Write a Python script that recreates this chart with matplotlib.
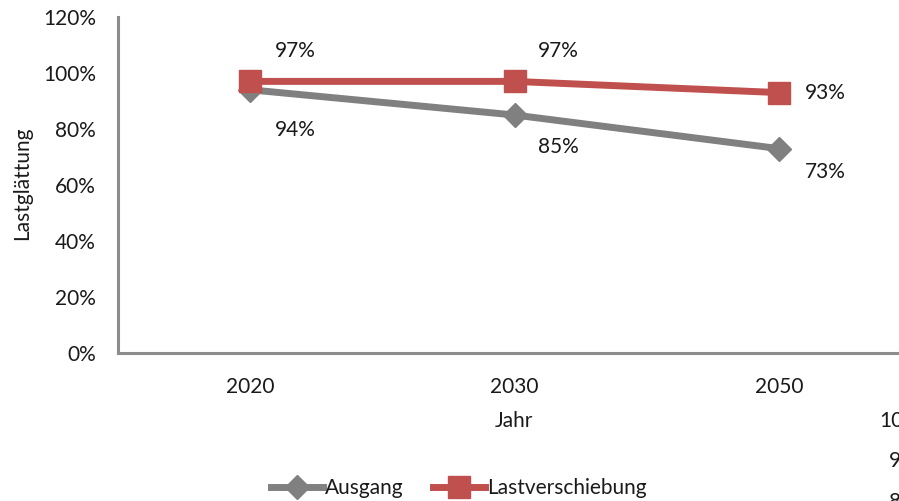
import matplotlib
matplotlib.use("Agg")
import matplotlib.pyplot as plt
from matplotlib.ticker import FuncFormatter

years = ["2020", "2030", "2050"]
ausgang = [94, 85, 73]
lastverschiebung = [97, 97, 93]
yticks = [0, 20, 40, 60, 80, 100, 120]

plt.rcParams['font.family'] = ['Lato', 'DejaVu Sans']
TXT = '#1a1a1a'
FS = 15

fig = plt.figure(figsize=(8.99, 5.01), dpi=100)
ax = fig.add_axes([118/899, 148/501, 793/899, 336/501])

x = list(range(len(years)))
grey = '#808080'
red = '#C0504D'
ax.plot(x, ausgang, color=grey, lw=5, marker='D', markersize=12, label='Ausgang', zorder=3)
ax.plot(x, lastverschiebung, color=red, lw=5, marker='s', markersize=16.5, label='Lastverschiebung', zorder=4)

ax.set_xlim(-0.5, 2.5)
ax.set_ylim(0, 120)
ax.set_yticks(yticks)
ax.yaxis.set_major_formatter(FuncFormatter(lambda v, p: f"{int(v)}%"))
ax.set_xticks(x)
ax.set_xticklabels(years)
ax.tick_params(axis='both', length=0, labelsize=FS, colors=TXT)
ax.tick_params(axis='x', pad=17)
ax.tick_params(axis='y', pad=16)
for s in ['top', 'right']:
    ax.spines[s].set_visible(False)
for s in ['left', 'bottom']:
    ax.spines[s].set_color('#8c8c8c')
    ax.spines[s].set_linewidth(2.2)

red_off = [(45, 30), (44, 30), (46, 0)]
grey_off = [(45, -40), (44, -32), (46, -23)]
for i in x:
    ax.annotate(f"{lastverschiebung[i]}%", (i, lastverschiebung[i]), xytext=red_off[i],
                textcoords='offset pixels', ha='center', va='center', fontsize=FS, color=TXT)
    ax.annotate(f"{ausgang[i]}%", (i, ausgang[i]), xytext=grey_off[i],
                textcoords='offset pixels', ha='center', va='center', fontsize=FS, color=TXT)

fig.text(514/899, 1 - 421/501, 'Jahr', ha='center', va='center', fontsize=FS, color=TXT)
fig.text(22/899, 1 - 183/501, 'Lastglättung', rotation=90, ha='center', va='center',
         fontsize=FS, color=TXT)

leg = fig.legend(loc='center', bbox_to_anchor=(459/899, 1 - 488/501), ncol=2, frameon=False,
                 fontsize=FS, handlelength=2.5, handletextpad=0.1, columnspacing=1.4,
                 borderpad=0, borderaxespad=0)
for t in leg.get_texts():
    t.set_color(TXT)

# cropped neighbouring labels at right edge
fig.text(879/899, 1 - 421/501, '100%', ha='left', va='center', fontsize=FS, color=TXT)
fig.text(889/899, 1 - 461/501, '90%', ha='left', va='center', fontsize=FS, color=TXT)
fig.text(889/899, 1 - 502/501, '80%', ha='left', va='center', fontsize=FS, color=TXT)

fig.savefig('out.png', dpi=100)
